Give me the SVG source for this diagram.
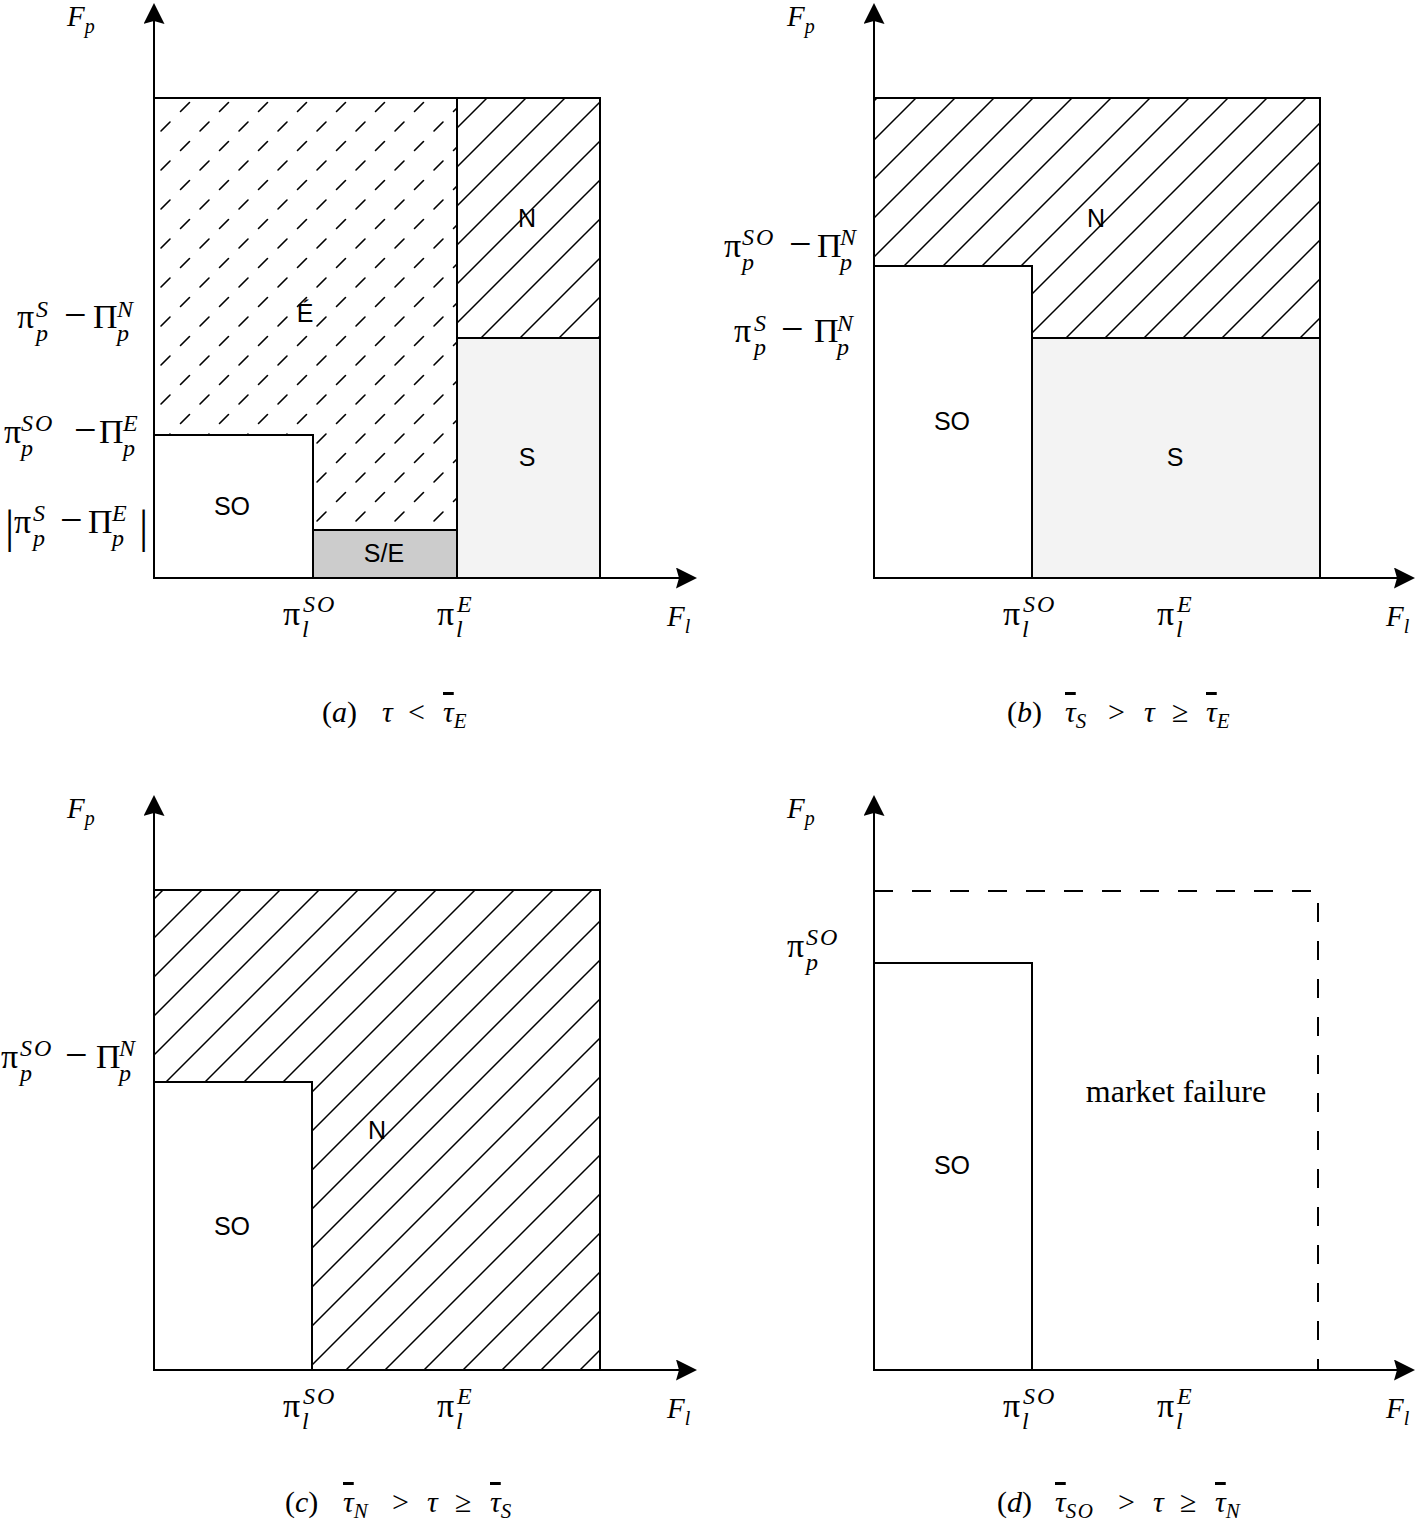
<svg xmlns="http://www.w3.org/2000/svg" width="1417" height="1523" viewBox="0 0 1417 1523">
<style>
.reg{stroke:#000;stroke-width:2;stroke-linejoin:miter}
.ax{stroke:#000;stroke-width:2;fill:none;marker-end:url(#arr)}
.lab{font-family:"Liberation Sans",Arial,sans-serif;font-size:25px;text-anchor:middle;fill:#000}
.m{font-family:"Liberation Serif","DejaVu Serif",serif;font-size:34px;fill:#000}
.sc{font-size:24px;font-style:italic}
.mn{font-size:40px}
.i{font-style:italic}
.F{font-family:"Liberation Serif","DejaVu Serif",serif;font-size:29px;font-style:italic;fill:#000}
.Fs{font-size:20px}
.cap{font-family:"Liberation Serif","DejaVu Serif",serif;font-size:30px;fill:#000}
.cs{font-size:21px;font-style:italic}
.ob{text-decoration:overline}
.mf{font-family:"Liberation Serif","DejaVu Serif",serif;font-size:32px;text-anchor:middle;fill:#000}
.dash{stroke:#000;stroke-width:2;fill:none;stroke-dasharray:19 19}
</style>
<defs>
<pattern id="hatch" patternUnits="userSpaceOnUse" width="39" height="39">
<path d="M-2,2 L2,-2 M0,39 L39,0 M37,41 L41,37" stroke="#000" stroke-width="1.5"/>
</pattern>
<pattern id="dhatch" patternUnits="userSpaceOnUse" width="39" height="39" x="0" y="0">
<path d="M5,14 L14,5 M24.5,33.5 L33.5,24.5" stroke="#000" stroke-width="1.6" stroke-linecap="round"/>
</pattern>
<marker id="arr" viewBox="0 0 21 21" refX="16" refY="10.5" markerWidth="21" markerHeight="21" markerUnits="userSpaceOnUse" orient="auto">
<path d="M0,0 L21,10.5 L0,21 L3,10.5 Z" fill="#000"/>
</marker>
</defs>

<!-- Panel (a) -->
<g id="panel-a">
<g id="a-E"><path class="reg" fill="url(#dhatch)" d="M154,98 L457,98 L457,530 L313,530 L313,435 L154,435 Z"/><text class="lab" x="305" y="322">É</text></g>
<g id="a-SO"><rect class="reg" fill="#fff" x="154" y="435" width="159" height="143"/><text class="lab" x="232" y="515">SO</text></g>
<g id="a-SE"><rect class="reg" fill="#cccccc" x="313" y="530" width="144" height="48"/><text class="lab" x="384" y="562">S/E</text></g>
<g id="a-N"><rect class="reg" fill="url(#hatch)" x="457" y="98" width="143" height="240"/><text class="lab" x="527" y="227">N</text></g>
<g id="a-S"><rect class="reg" fill="#f3f3f3" x="457" y="338" width="143" height="240"/><text class="lab" x="527" y="466">S</text></g>
<text class="m" y="328"><tspan x="17">π</tspan><tspan class="sc" x="36" y="317">S</tspan><tspan class="sc" x="36" y="341">p</tspan><tspan class="mn" x="64" y="328">−</tspan><tspan x="93">Π</tspan><tspan class="sc" x="117" y="317" letter-spacing="1">N</tspan><tspan class="sc" x="117" y="341">p</tspan></text>
<text class="m" y="443"><tspan x="4">π</tspan><tspan class="sc" x="21" y="431" letter-spacing="2">SO</tspan><tspan class="sc" x="21" y="456">p</tspan><tspan class="mn" x="74" y="443">−</tspan><tspan x="99">Π</tspan><tspan class="sc" x="123" y="431">E</tspan><tspan class="sc" x="123" y="456">p</tspan></text>
<text class="m" y="533"><tspan x="5" y="542" font-size="46">|</tspan><tspan x="14" y="533">π</tspan><tspan class="sc" x="33" y="521">S</tspan><tspan class="sc" x="33" y="546">p</tspan><tspan class="mn" x="60" y="533">−</tspan><tspan x="88">Π</tspan><tspan class="sc" x="112" y="521">E</tspan><tspan class="sc" x="112" y="546">p</tspan><tspan x="139" y="542" font-size="46">|</tspan></text>
<text class="m" y="625"><tspan x="283">π</tspan><tspan class="sc" x="303" y="612" letter-spacing="2">SO</tspan><tspan class="sc" x="302" y="637">l</tspan></text>
<text class="m" y="625"><tspan x="437">π</tspan><tspan class="sc" x="457" y="612">E</tspan><tspan class="sc" x="456" y="637">l</tspan></text>
<text class="F" x="67" y="26">F<tspan class="Fs" dy="7">p</tspan></text>
<text class="F" x="667" y="626">F<tspan class="Fs" dy="7">l</tspan></text>
<text class="cap" y="722"><tspan x="322">(</tspan><tspan class="i">a</tspan><tspan>)</tspan><tspan class="i" x="382">τ</tspan><tspan x="408">&lt;</tspan><tspan class="i ob" x="443">τ</tspan><tspan class="cs" dy="6">E</tspan></text>
</g>

<!-- Panel (b) -->
<g id="panel-b">
<g id="b-N"><path class="reg" fill="url(#hatch)" d="M874,98 L1320,98 L1320,338 L1032,338 L1032,266 L874,266 Z"/><text class="lab" x="1096" y="227">N</text></g>
<g id="b-SO"><rect class="reg" fill="#fff" x="874" y="266" width="158" height="312"/><text class="lab" x="952" y="430">SO</text></g>
<g id="b-S"><rect class="reg" fill="#f3f3f3" x="1032" y="338" width="288" height="240"/><text class="lab" x="1175" y="466">S</text></g>
<text class="m" y="257"><tspan x="724">π</tspan><tspan class="sc" x="742" y="245" letter-spacing="2">SO</tspan><tspan class="sc" x="742" y="270">p</tspan><tspan class="mn" x="789" y="257">−</tspan><tspan x="817">Π</tspan><tspan class="sc" x="840" y="245" letter-spacing="1">N</tspan><tspan class="sc" x="840" y="270">p</tspan></text>
<text class="m" y="342"><tspan x="734">π</tspan><tspan class="sc" x="754" y="331">S</tspan><tspan class="sc" x="754" y="355">p</tspan><tspan class="mn" x="781" y="342">−</tspan><tspan x="814">Π</tspan><tspan class="sc" x="837" y="331" letter-spacing="1">N</tspan><tspan class="sc" x="837" y="355">p</tspan></text>
<text class="m" y="625"><tspan x="1003">π</tspan><tspan class="sc" x="1023" y="612" letter-spacing="2">SO</tspan><tspan class="sc" x="1022" y="637">l</tspan></text>
<text class="m" y="625"><tspan x="1157">π</tspan><tspan class="sc" x="1177" y="612">E</tspan><tspan class="sc" x="1176" y="637">l</tspan></text>
<text class="F" x="787" y="26">F<tspan class="Fs" dy="7">p</tspan></text>
<text class="F" x="1386" y="626">F<tspan class="Fs" dy="7">l</tspan></text>
<text class="cap" y="722"><tspan x="1007">(</tspan><tspan class="i">b</tspan><tspan>)</tspan><tspan class="i ob" x="1065">τ</tspan><tspan class="cs" dy="6">S</tspan><tspan x="1108" dy="-6">&gt;</tspan><tspan class="i" x="1144">τ</tspan><tspan x="1172">≥</tspan><tspan class="i ob" x="1206">τ</tspan><tspan class="cs" dy="6">E</tspan></text>
</g>

<!-- Panel (c) -->
<g id="panel-c">
<g id="c-N"><path class="reg" fill="url(#hatch)" d="M154,890 L600,890 L600,1370 L312,1370 L312,1082 L154,1082 Z"/><text class="lab" x="377" y="1139">N</text></g>
<g id="c-SO"><rect class="reg" fill="#fff" x="154" y="1082" width="158" height="288"/><text class="lab" x="232" y="1235">SO</text></g>
<text class="m" y="1068"><tspan x="1">π</tspan><tspan class="sc" x="20" y="1056" letter-spacing="2">SO</tspan><tspan class="sc" x="20" y="1081">p</tspan><tspan class="mn" x="65" y="1068">−</tspan><tspan x="96">Π</tspan><tspan class="sc" x="119" y="1056" letter-spacing="1">N</tspan><tspan class="sc" x="119" y="1081">p</tspan></text>
<text class="m" y="1417"><tspan x="283">π</tspan><tspan class="sc" x="303" y="1404" letter-spacing="2">SO</tspan><tspan class="sc" x="302" y="1429">l</tspan></text>
<text class="m" y="1417"><tspan x="437">π</tspan><tspan class="sc" x="457" y="1404">E</tspan><tspan class="sc" x="456" y="1429">l</tspan></text>
<text class="F" x="67" y="818">F<tspan class="Fs" dy="7">p</tspan></text>
<text class="F" x="667" y="1418">F<tspan class="Fs" dy="7">l</tspan></text>
<text class="cap" y="1512"><tspan x="285">(</tspan><tspan class="i">c</tspan><tspan>)</tspan><tspan class="i ob" x="343">τ</tspan><tspan class="cs" dy="6">N</tspan><tspan x="392" dy="-6">&gt;</tspan><tspan class="i" x="427">τ</tspan><tspan x="455">≥</tspan><tspan class="i ob" x="490">τ</tspan><tspan class="cs" dy="6">S</tspan></text>
</g>

<!-- Panel (d) -->
<g id="panel-d">
<g id="d-MF"><path class="dash" d="M874,891 L1318,891 L1318,1370"/><text class="mf" x="1176" y="1102">market failure</text></g>
<g id="d-SO"><rect class="reg" fill="#fff" x="874" y="963" width="158" height="407"/><text class="lab" x="952" y="1174">SO</text></g>
<text class="m" y="957"><tspan x="787">π</tspan><tspan class="sc" x="806" y="945" letter-spacing="2">SO</tspan><tspan class="sc" x="806" y="970">p</tspan></text>
<text class="m" y="1417"><tspan x="1003">π</tspan><tspan class="sc" x="1023" y="1404" letter-spacing="2">SO</tspan><tspan class="sc" x="1022" y="1429">l</tspan></text>
<text class="m" y="1417"><tspan x="1157">π</tspan><tspan class="sc" x="1177" y="1404">E</tspan><tspan class="sc" x="1176" y="1429">l</tspan></text>
<text class="F" x="787" y="818">F<tspan class="Fs" dy="7">p</tspan></text>
<text class="F" x="1386" y="1418">F<tspan class="Fs" dy="7">l</tspan></text>
<text class="cap" y="1512"><tspan x="997">(</tspan><tspan class="i">d</tspan><tspan>)</tspan><tspan class="i ob" x="1055">τ</tspan><tspan class="cs" dy="6" letter-spacing="1.5">SO</tspan><tspan x="1118" dy="-6">&gt;</tspan><tspan class="i" x="1153">τ</tspan><tspan x="1180">≥</tspan><tspan class="i ob" x="1215">τ</tspan><tspan class="cs" dy="6">N</tspan></text>
</g>

<!-- Axes (connectors) -->
<g id="axes">
<path class="ax" d="M154,578 L154,8"/>
<path class="ax" d="M154,578 L692,578"/>
<path class="ax" d="M874,578 L874,8"/>
<path class="ax" d="M874,578 L1410,578"/>
<path class="ax" d="M154,1370 L154,800"/>
<path class="ax" d="M154,1370 L692,1370"/>
<path class="ax" d="M874,1370 L874,800"/>
<path class="ax" d="M874,1370 L1410,1370"/>
</g>
</svg>
